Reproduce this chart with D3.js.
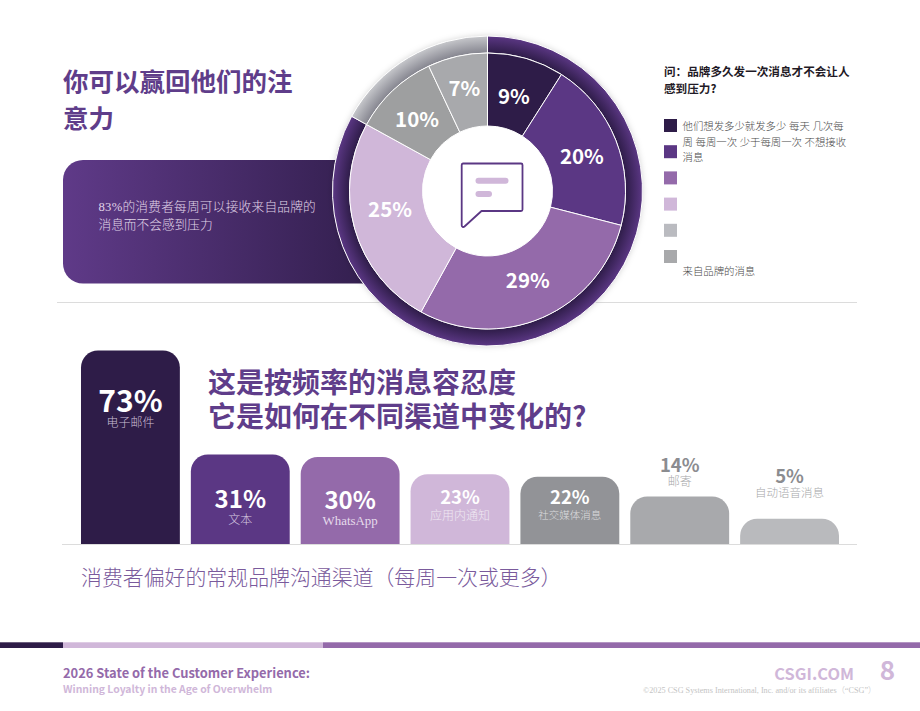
<!DOCTYPE html>
<html lang="zh-CN">
<head>
<meta charset="utf-8">
<title>品牌消息容忍度</title>
<script src="https://cdn.jsdelivr.net/npm/d3@7/dist/d3.min.js"></script>
<style>
  html, body { margin: 0; padding: 0; background: #fff; }
  svg { display: block; }
  text { font-family: "Noto Sans CJK SC", sans-serif; }
  .serif { font-family: "Liberation Serif", "Noto Sans CJK SC", serif; font-weight: 300; }
</style>
</head>
<body>
<svg id="page" width="920" height="711" viewBox="0 0 920 711"></svg>
<script>
// Frequency tolerance: share of respondents per answer
const frequencyLabels = ["他们想发多少就发多少", "每天", "几次每周", "每周一次", "少于每周一次", "不想接收来自品牌的消息"];
const frequencyValues = [9, 20, 29, 25, 10, 7];
const frequencyColors = ["#2e1c48", "#5b3784", "#946aaa", "#d0b7d9", "#9e9fa0", "#a8a9ac"];
const legendColors = ["#2e1c48", "#5b3784", "#946aaa", "#d0b7d9", "#babbc0", "#a8a9ab"];
const legendLines = ["他们想发多少就发多少 每天 几次每", "周 每周一次 少于每周一次 不想接收", "消息", "来自品牌的消息"];
const toleranceShare = [83, 17];

// Preferred channels, weekly or more
const channelNames = ["电子邮件", "文本", "WhatsApp", "应用内通知", "社交媒体消息", "邮寄", "自动语音消息"];
const channelValues = [73, 31, 30, 23, 22, 14, 5];
const channelColors = ["#2e1c48", "#5b3784", "#946aaa", "#d0b7d9", "#929397", "#a8a9ac", "#b9babd"];

// Per-bar label placement: value baseline relative to bar top, gap to name, type sizes, inks
const channelLabelStyle = [
  { dy: 61.5, gap: 15, size: 30, nameSize: 12, ink: "#fff", nameInk: "#c9bcd4" },
  { dy: 54, gap: 16, size: 24, nameSize: 12, ink: "#fff", nameInk: "#d6c8e0" },
  { dy: 52, gap: 16, size: 24, nameSize: 12.9, ink: "#fff", nameInk: "#e6dcec" },
  { dy: 30, gap: 16, size: 18.5, nameSize: 12, ink: "#fff", nameInk: "#efe8f2" },
  { dy: 27, gap: 15, size: 18.5, nameSize: 10.5, ink: "#fff", nameInk: "#dcdcde" },
  { dy: -24.5, gap: 14.5, size: 18.5, nameSize: 12, ink: "#8b8c90", nameInk: "#a7a8aa" },
  { dy: -36, gap: 14.5, size: 18.5, nameSize: 11.5, ink: "#8b8c90", nameInk: "#a7a8aa" }
];

// Hand placement of the donut percentages relative to each slice centroid
const shareLabelNudge = [[-2, 1], [0, 1], [0, -5], [0, -11], [-1, 1], [-1, -5]];

const svg = d3.select("#page");
const defs = svg.append("defs");

const cardFill = defs.append("linearGradient").attr("id", "cardFill");
cardFill.append("stop").attr("offset", "0%").attr("stop-color", "#5f3a88");
cardFill.append("stop").attr("offset", "100%").attr("stop-color", "#2e1c48");

const pieCenter = { x: 487.5, y: 191 };
const ringOuter = 155, pieOuter = 138, pieInner = 65;

function ringGradient(id, inner, outer) {
  const g = defs.append("radialGradient").attr("id", id)
    .attr("gradientUnits", "userSpaceOnUse")
    .attr("cx", 0).attr("cy", 0).attr("r", ringOuter);
  g.append("stop").attr("offset", pieOuter / ringOuter).attr("stop-color", inner);
  g.append("stop").attr("offset", 1).attr("stop-color", outer);
}
ringGradient("ringPurple", "#2e1c48", "#5b3784");
ringGradient("ringGray", "#85858f", "#c6c7cb");

const ringShadow = defs.append("filter").attr("id", "ringShadow")
  .attr("x", "-20%").attr("y", "-20%").attr("width", "140%").attr("height", "140%");
ringShadow.append("feDropShadow").attr("dx", 0).attr("dy", 0)
  .attr("stdDeviation", 3).attr("flood-color", "#000").attr("flood-opacity", 0.18);

// Section dividers
const divider = "#dcdcdc";
svg.append("line").attr("x1", 57).attr("x2", 857).attr("y1", 302.5).attr("y2", 302.5)
  .attr("stroke", divider);

// Headline and callout card
const purple = "#5b3784";
const headingInk = "#5f3d8a";
svg.append("text").attr("x", 63).attr("y", 91).attr("font-size", 25.5).attr("font-weight", 700)
  .attr("fill", headingInk).text("你可以赢回他们的注");
svg.append("text").attr("x", 63).attr("y", 128).attr("font-size", 25.5).attr("font-weight", 700)
  .attr("fill", headingInk).text("意力");

svg.append("rect").attr("x", 63).attr("y", 160).attr("width", 340).attr("height", 123.5)
  .attr("rx", 20).attr("fill", "url(#cardFill)");
[["83%的消费者每周可以接收来自品牌的", 211, 0.22], ["消息而不会感到压力", 229, 0]].forEach(([line, y, track]) => {
  svg.append("text").attr("class", "serif").attr("x", 98.5).attr("y", y)
    .attr("font-size", 12.7).attr("letter-spacing", track).attr("fill", "#e0d4e8").text(line);
});

// Donut with its surrounding 83 / 17 ring
const pie = d3.pie().sort(null).value(d => d);
const donut = svg.append("g").attr("transform", `translate(${pieCenter.x},${pieCenter.y})`);

const ringArc = d3.arc().innerRadius(pieOuter).outerRadius(ringOuter);
donut.append("circle").attr("r", ringOuter).attr("fill", "#fff").attr("filter", "url(#ringShadow)");
donut.selectAll("path.ring").data(pie(toleranceShare)).join("path")
  .attr("class", "ring")
  .attr("d", ringArc)
  .attr("fill", (d, i) => i === 0 ? "url(#ringPurple)" : "url(#ringGray)")
  .attr("stroke", "#fff").attr("stroke-width", 1);

const sliceArc = d3.arc().innerRadius(pieInner).outerRadius(pieOuter);
const slices = pie(frequencyValues);
donut.selectAll("path.slice").data(slices).join("path")
  .attr("class", "slice")
  .attr("d", sliceArc)
  .attr("fill", (d, i) => frequencyColors[i])
  .attr("stroke", "#fff").attr("stroke-width", 1);
donut.selectAll("text.share").data(slices).join("text")
  .attr("class", "share")
  .attr("transform", (d, i) => {
    const [cx, cy] = sliceArc.centroid(d);
    return `translate(${cx + shareLabelNudge[i][0]},${cy + shareLabelNudge[i][1]})`;
  })
  .attr("text-anchor", "middle").attr("dominant-baseline", "central")
  .attr("font-size", 20.5).attr("font-weight", 700).attr("fill", "#fff")
  .text(d => `${d.value}%`);

// Speech bubble in the donut hole
const icon = svg.append("g");
icon.append("path")
  .attr("d", "M463 163.5H521a1.5 1.5 0 0 1 1.5 1.5V209.5a1.5 1.5 0 0 1 -1.5 1.5H481.5L464.5 226.5c-1.2 1 -2.8 .4 -2.8 -1.2V165a1.5 1.5 0 0 1 1.3 -1.5Z")
  .attr("fill", "#fff").attr("stroke", purple).attr("stroke-width", 1.8).attr("stroke-linejoin", "round");
icon.append("rect").attr("x", 475.5).attr("y", 177.7).attr("width", 33).attr("height", 6).attr("rx", 3).attr("fill", "#d0b7d9");
icon.append("rect").attr("x", 475.5).attr("y", 191).attr("width", 16.5).attr("height", 6).attr("rx", 3).attr("fill", "#d0b7d9");

// Legend
svg.append("text").attr("x", 664).attr("y", 76).attr("font-size", 11.6).attr("font-weight", 700)
  .attr("fill", "#1f1a26").text("问：品牌多久发一次消息才不会让人");
svg.append("text").attr("x", 664).attr("y", 93).attr("font-size", 11.6).attr("font-weight", 700)
  .attr("fill", "#1f1a26").text("感到压力?");

const legendY = d3.scalePoint().domain(d3.range(legendColors.length)).range([119, 250]);
svg.selectAll("rect.key").data(legendColors).join("rect")
  .attr("class", "key")
  .attr("x", 664).attr("y", (d, i) => legendY(i))
  .attr("width", 13).attr("height", 13)
  .attr("fill", d => d);
const legendBaselines = [130, 145.5, 161, 275];
svg.selectAll("text.keytext").data(legendLines).join("text")
  .attr("class", "keytext serif")
  .attr("x", 682.5).attr("y", (d, i) => legendBaselines[i])
  .attr("font-size", 10.4).attr("fill", "#4a4a4a")
  .text(d => d);

// Channel bars
const baseY = 544;
const barX = d3.scaleBand().domain(channelNames).range([75.5, 844.5]).paddingInner(0.1).paddingOuter(0.05);
const barY = d3.scaleLinear().domain([-5.2, 73]).range([baseY, 350.5]);
const barRadius = 17;

function roundedTop(x, y, w, h, r) {
  const p = d3.path();
  p.moveTo(x, y + h);
  p.lineTo(x, y + r);
  p.arcTo(x, y, x + r, y, r);
  p.lineTo(x + w - r, y);
  p.arcTo(x + w, y, x + w, y + r, r);
  p.lineTo(x + w, y + h);
  p.closePath();
  return p.toString();
}

const channels = channelNames.map((name, i) => ({ name, value: channelValues[i], color: channelColors[i], style: channelLabelStyle[i] }));
svg.selectAll("path.bar").data(channels).join("path")
  .attr("class", "bar")
  .attr("d", d => roundedTop(barX(d.name), barY(d.value), barX.bandwidth(), baseY - barY(d.value), barRadius))
  .attr("fill", d => d.color);
svg.selectAll("text.value").data(channels).join("text")
  .attr("class", "value")
  .attr("x", d => barX(d.name) + barX.bandwidth() / 2)
  .attr("y", d => barY(d.value) + d.style.dy)
  .attr("text-anchor", "middle").attr("font-weight", 700)
  .attr("font-size", d => d.style.size).attr("fill", d => d.style.ink)
  .text(d => `${d.value}%`);
svg.selectAll("text.name").data(channels).join("text")
  .attr("class", "name serif")
  .attr("x", d => barX(d.name) + barX.bandwidth() / 2)
  .attr("y", d => barY(d.value) + d.style.dy + d.style.gap)
  .attr("text-anchor", "middle")
  .attr("font-size", d => d.style.nameSize).attr("fill", d => d.style.nameInk)
  .text(d => d.name);

svg.append("line").attr("x1", 62).attr("x2", 857).attr("y1", 544.5).attr("y2", 544.5).attr("stroke", divider);

svg.append("text").attr("x", 208).attr("y", 393).attr("font-size", 28).attr("font-weight", 700)
  .attr("fill", headingInk).text("这是按频率的消息容忍度");
svg.append("text").attr("x", 208).attr("y", 427).attr("font-size", 28).attr("font-weight", 700)
  .attr("fill", headingInk).text("它是如何在不同渠道中变化的?");
svg.append("text").attr("class", "serif").attr("x", 81).attr("y", 585).attr("font-size", 20.9)
  .attr("fill", "#7a5a9c").text("消费者偏好的常规品牌沟通渠道（每周一次或更多）");

// Footer band and credits
[[0, 63, "#2e1c48"], [63, 323, "#d0b7d9"], [323, 920, "#946aaa"]].forEach(([a, b, c]) => {
  svg.append("rect").attr("x", a).attr("y", 642.3).attr("width", b - a).attr("height", 5.7).attr("fill", c);
});
svg.append("text").attr("x", 63).attr("y", 678).attr("font-size", 12.9).attr("font-weight", 700)
  .attr("fill", "#946aaa").text("2026 State of the Customer Experience:");
svg.append("text").attr("x", 63).attr("y", 693).attr("font-size", 10.4).attr("font-weight", 700)
  .attr("fill", "#d0b7d9").text("Winning Loyalty in the Age of Overwhelm");
svg.append("text").attr("x", 854).attr("y", 680).attr("text-anchor", "end").attr("font-size", 16.4).attr("font-weight", 700)
  .attr("fill", "#d0b7d9").text("CSGI.COM");
svg.append("text").attr("x", 895).attr("y", 680).attr("text-anchor", "end").attr("font-size", 26).attr("font-weight", 700)
  .attr("fill", "#d0b7d9").text("8");
svg.append("text").attr("class", "serif").attr("x", 643).attr("y", 693).attr("font-size", 8.2)
  .attr("fill", "#c4c4c4").text("©2025 CSG Systems International, Inc. and/or its affiliates（“CSG”）");
</script>
</body>
</html>
